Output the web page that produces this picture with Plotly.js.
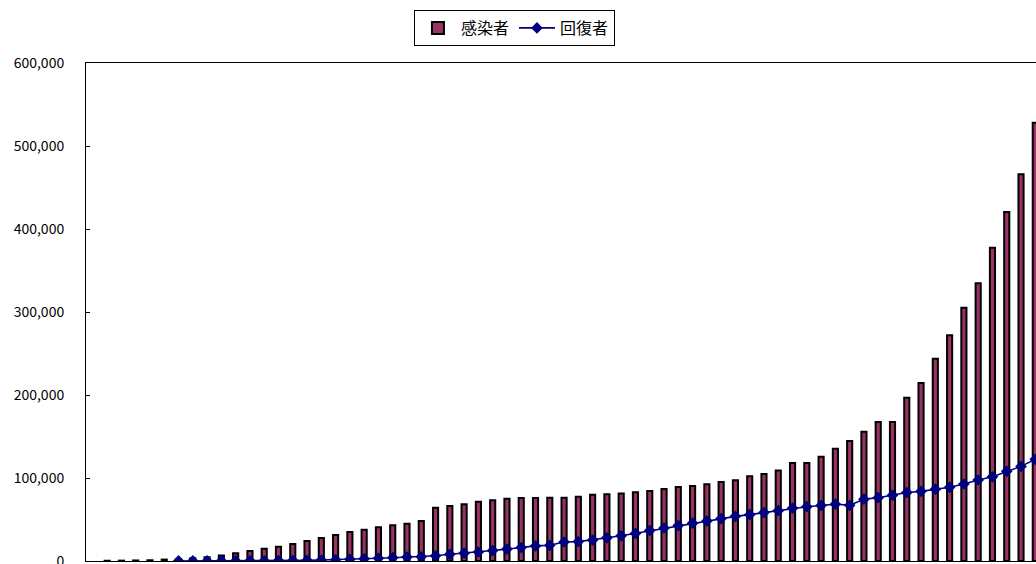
<!DOCTYPE html>
<html>
<head>
<meta charset="utf-8">
<script src="https://cdn.plot.ly/plotly-3.0.1.min.js"></script>
<style>
  html, body { margin: 0; padding: 0; overflow: hidden; background: #fff; }
  #chart { width: 1036px; height: 600px; }
</style>
</head>
<body>
<div id="chart"></div>
<script>
// Category labels (dates, hidden below the cut-off bottom edge)
const days = [
  "1/21","1/22","1/23","1/24","1/25","1/26","1/27","1/28","1/29","1/30","1/31",
  "2/1","2/2","2/3","2/4","2/5","2/6","2/7","2/8","2/9","2/10",
  "2/11","2/12","2/13","2/14","2/15","2/16","2/17","2/18","2/19","2/20",
  "2/21","2/22","2/23","2/24","2/25","2/26","2/27","2/28","2/29",
  "3/1","3/2","3/3","3/4","3/5","3/6","3/7","3/8","3/9","3/10",
  "3/11","3/12","3/13","3/14","3/15","3/16","3/17","3/18","3/19","3/20",
  "3/21","3/22","3/23","3/24","3/25","3/26"
];

// 感染者 (bars)
const confirmed = [
  300, 450, 650, 900, 1700, 2400, 3200, 4500, 6500, 9300,
  12000, 14900, 17200, 20500, 24100, 27700, 31300, 34900, 37700, 40600,
  43000, 44900, 48200, 64200, 66300, 68300, 71400, 73100, 75100, 75900,
  75900, 76300, 76300, 77300, 79700, 80400, 81300, 82900, 84300, 86700,
  89200, 90500, 92600, 95300, 97400, 102200, 104800, 109000, 118200, 118200,
  125700, 135300, 144600, 155800, 167500, 167500, 196700, 214500, 243700, 271900,
  305200, 334600, 377500, 420500, 465900, 528100
];

// 回復者 (line)
const recovered = [
  null, null, null, null, null, 50, 60, 110, 130, 140,
  220, 280, 470, 620, 850, 1120, 1490, 2010, 2620, 3240,
  3950, 4680, 5150, 6300, 8060, 9400, 10870, 12580, 14350, 16120,
  18180, 18890, 22890, 23390, 25230, 27910, 30380, 33280, 36710, 39780,
  42720, 45600, 48230, 51170, 53800, 55870, 58360, 60690, 63700, 65400,
  66900, 68500, 67100, 74500, 76300, 79300, 82500, 83900, 86500, 88800,
  92800, 97600, 101400, 108000, 114000, 122500
];

const yTicks = [0, 100000, 200000, 300000, 400000, 500000, 600000];

const fontFamily = '"Noto Sans CJK JP", "Noto Sans", sans-serif';

const traces = [
  {
    type: 'bar',
    name: '感染者',
    x: days,
    y: confirmed,
    width: 0.36,
    marker: { color: '#993366', line: { color: '#000000', width: 2 } },
    hoverinfo: 'skip'
  },
  {
    type: 'scatter',
    mode: 'lines+markers',
    name: '回復者',
    x: days,
    y: recovered,
    line: { color: '#000080', width: 1.6 },
    marker: { symbol: 'diamond', size: 9, color: '#000080' },
    cliponaxis: true,
    hoverinfo: 'skip'
  }
];

const layout = {
  width: 1036,
  height: 600,
  margin: { l: 86, r: 0, t: 63, b: 39, pad: 0 },
  paper_bgcolor: '#ffffff',
  plot_bgcolor: '#ffffff',
  font: { family: fontFamily, color: '#000000', size: 14 },
  showlegend: true,
  legend: {
    orientation: 'h',
    x: 0.451, xanchor: 'center',
    y: 1.1064, yanchor: 'top',
    bordercolor: '#000000',
    borderwidth: 1,
    bgcolor: '#ffffff',
    font: { family: fontFamily, size: 16, color: '#000000' },
    itemwidth: 36,
    tracegroupgap: 0,
    traceorder: 'normal'
  },
  xaxis: {
    type: 'category',
    range: [-1.48, 65.05],
    showline: true,
    linecolor: '#000000',
    linewidth: 1,
    mirror: true,
    showgrid: false,
    zeroline: false,
    showticklabels: false,
    ticks: ''
  },
  yaxis: {
    range: [0, 600000],
    tickvals: yTicks,
    tickformat: ',d',
    showline: true,
    linecolor: '#000000',
    linewidth: 1,
    showgrid: false,
    zeroline: false,
    ticks: 'inside',
    ticklen: 4,
    tickcolor: '#000000',
    tickwidth: 1,
    ticklabelstandoff: 18,
    tickfont: { family: fontFamily, size: 14, color: '#000000' }
  }
};

Plotly.newPlot('chart', traces, layout, { displayModeBar: false, staticPlot: true });
</script>
</body>
</html>
